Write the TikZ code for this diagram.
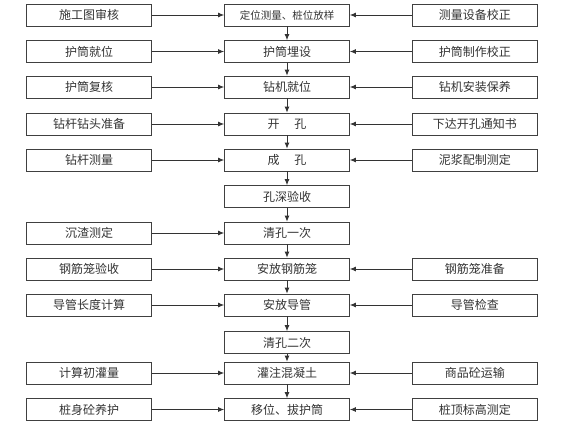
\documentclass[tikz,border=0pt]{standalone}
\usepackage{fontspec}
\newfontfamily\cjk{Noto Sans CJK SC}
\usepackage{tikz}
\usetikzlibrary{arrows.meta,positioning}

\begin{document}
\begin{tikzpicture}[x=1pt,y=1pt,font=\cjk\fontsize{12}{14}\selectfont,text=black!80]
\tikzset{step box/.style={draw=black!75,line width=0.8pt,minimum width=125pt,minimum height=22pt,inner sep=0pt,align=center},
side box/.style={step box},
flow/.style={-{Latex[length=6pt,width=5pt]},draw=black!80,line width=0.8pt}}
\useasboundingbox (0,0) rectangle (576,-432);

% main column
\node[step box,font=\cjk\fontsize{10.5}{12}\selectfont] (s1) at (287,-15) {定位测量、桩位放样};
\node[step box] (s2) at (287,-51.5) {护筒埋设};
\node[step box] (s3) at (287,-87) {钻机就位};
\node[step box] (s4) at (287,-124) {开\quad\ 孔};
\node[step box] (s5) at (287,-160) {成\quad\ 孔};
\node[step box] (s6) at (287,-196.5) {孔深验收};
\node[step box] (s7) at (287,-233) {清孔一次};
\node[step box] (s8) at (287,-269) {安放钢筋笼};
\node[step box] (s9) at (287,-305) {安放导管};
\node[step box] (s10) at (287,-342.5) {清孔二次};
\node[step box] (s11) at (287,-373) {灌注混凝土};
\node[step box] (s12) at (287,-409.5) {移位、拔护筒};

\draw[flow] (s1) -- (s2);
\draw[flow] (s2) -- (s3);
\draw[flow] (s3) -- (s4);
\draw[flow] (s4) -- (s5);
\draw[flow] (s5) -- (s6);
\draw[flow] (s6) -- (s7);
\draw[flow] (s7) -- (s8);
\draw[flow] (s8) -- (s9);
\draw[flow] (s9) -- (s10);
\draw[flow] (s10) -- (s11);
\draw[flow] (s11) -- (s12);

% left inputs
\node[side box,left=72pt of s1] (l1) {施工图审核};
\node[side box,left=72pt of s2] (l2) {护筒就位};
\node[side box,left=72pt of s3] (l3) {护筒复核};
\node[side box,left=72pt of s4] (l4) {钻杆钻头准备};
\node[side box,left=72pt of s5] (l5) {钻杆测量};
\node[side box,left=72pt of s7] (l7) {沉渣测定};
\node[side box,left=72pt of s8] (l8) {钢筋笼验收};
\node[side box,left=72pt of s9] (l9) {导管长度计算};
\node[side box,left=72pt of s11] (l11) {计算初灌量};
\node[side box,left=72pt of s12] (l12) {桩身砼养护};

\draw[flow] (l1) -- (s1);
\draw[flow] (l2) -- (s2);
\draw[flow] (l3) -- (s3);
\draw[flow] (l4) -- (s4);
\draw[flow] (l5) -- (s5);
\draw[flow] (l7) -- (s7);
\draw[flow] (l8) -- (s8);
\draw[flow] (l9) -- (s9);
\draw[flow] (l11) -- (s11);
\draw[flow] (l12) -- (s12);

% right inputs
\node[side box,right=62pt of s1] (r1) {测量设备校正};
\node[side box,right=62pt of s2] (r2) {护筒制作校正};
\node[side box,right=62pt of s3] (r3) {钻机安装保养};
\node[side box,right=62pt of s4] (r4) {下达开孔通知书};
\node[side box,right=62pt of s5] (r5) {泥浆配制测定};
\node[side box,right=62pt of s8] (r8) {钢筋笼准备};
\node[side box,right=62pt of s9] (r9) {导管检查};
\node[side box,right=62pt of s11] (r11) {商品砼运输};
\node[side box,right=62pt of s12] (r12) {桩顶标高测定};

\draw[flow] (r1) -- (s1);
\draw[flow] (r2) -- (s2);
\draw[flow] (r3) -- (s3);
\draw[flow] (r4) -- (s4);
\draw[flow] (r5) -- (s5);
\draw[flow] (r8) -- (s8);
\draw[flow] (r9) -- (s9);
\draw[flow] (r11) -- (s11);
\draw[flow] (r12) -- (s12);
\end{tikzpicture}
\end{document}
